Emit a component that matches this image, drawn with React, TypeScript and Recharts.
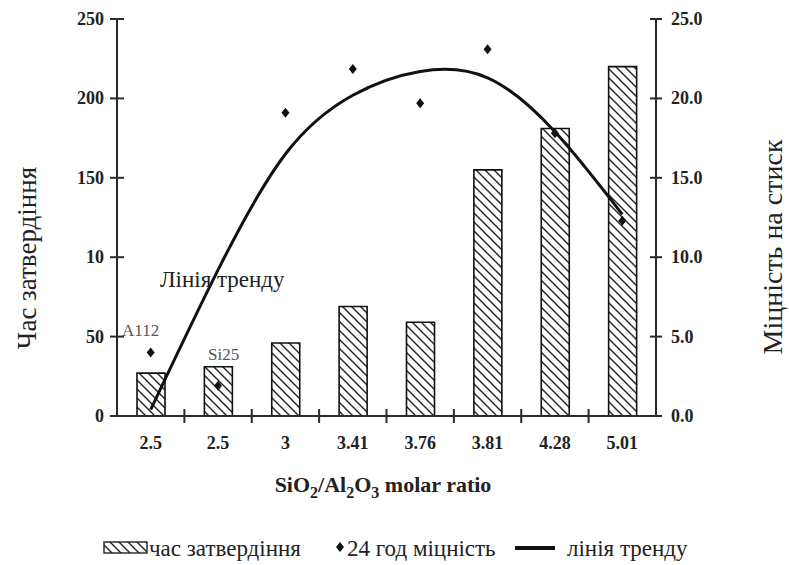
import React from 'react';
import { ComposedChart, Bar, Line, Scatter, XAxis, YAxis } from 'recharts';

const categories = ['2.5', '2.5', '3', '3.41', '3.76', '3.81', '4.28', '5.01'];
const curingTime = [27, 31, 46, 69, 59, 155, 181, 220];
const strength24h = [4.0, 1.9, 19.1, 21.85, 19.7, 23.1, 17.8, 12.3];
const trendLine = [0.4, 9.2, 16.5, 20.2, 21.7, 21.3, 17.9, 12.7];
const leftTicks = [0, 50, 100, 150, 200, 250];
const leftTickLabels = ['0', '50', '10', '150', '200', '250'];
const rightTicks = [0, 5, 10, 15, 20, 25];

const data = categories.map((c, i) => ({
  id: 'c' + i,
  label: c,
  time: curingTime[i],
  strength: strength24h[i],
  trend: trendLine[i],
}));

const SERIF = '"Liberation Serif", "DejaVu Serif", serif';
const CYR = '"Liberation Serif", "Liberation Sans", sans-serif';
const AXIS = '#2a2a2a';
const W = 789;
const H = 565;

const LeftTick = (props: any) => {
  const { x, y, payload } = props;
  const idx = leftTicks.indexOf(payload.value);
  return (
    <g>
      <line x1={x - 7} x2={x + 7} y1={y} y2={y} stroke={AXIS} strokeWidth={2} />
      <text x={x - 13} y={y + 6} textAnchor="end" fontFamily={SERIF} fontWeight="bold" fontSize={18} fill="#222">
        {idx >= 0 ? leftTickLabels[idx] : payload.value}
      </text>
    </g>
  );
};

const RightTick = (props: any) => {
  const { x, y, payload } = props;
  return (
    <g>
      <line x1={x - 6} x2={x + 6} y1={y} y2={y} stroke={AXIS} strokeWidth={2} />
      <text x={x + 15} y={y + 6} textAnchor="start" fontFamily={SERIF} fontWeight="bold" fontSize={18} fill="#222">
        {Number(payload.value).toFixed(1)}
      </text>
    </g>
  );
};

const XTick = (props: any) => {
  const { x, y, payload, index } = props;
  const half = payload && payload.offset ? payload.offset : 539 / categories.length / 2;
  const i = typeof index === 'number' ? index : 0;
  return (
    <g>
      {i > 0 && <line x1={x - half} x2={x - half} y1={y - 7} y2={y + 7} stroke={AXIS} strokeWidth={2} />}
      <text x={x} y={y + 33} textAnchor="middle" fontFamily={SERIF} fontWeight="bold" fontSize={18} fill="#222">
        {categories[i]}
      </text>
    </g>
  );
};

const Diamond = (props: any) => {
  const { cx, cy } = props;
  if (cx == null || cy == null) return null;
  return <polygon points={`${cx},${cy - 5} ${cx + 4},${cy} ${cx},${cy + 5} ${cx - 4},${cy}`} fill="#111" />;
};

const HatchDef = ({ id }: { id: string }) => (
  <pattern id={id} patternUnits="userSpaceOnUse" width="9" height="9">
    <rect width="9" height="9" fill="#fff" />
    <path d="M-2.25,6.75 l4.5,4.5 M0,0 l9,9 M6.75,-2.25 l4.5,4.5" stroke="#222" strokeWidth="1.4" />
  </pattern>
);

export default function App() {
  return (
    <div style={{ position: 'absolute', left: 0, top: 0, width: W, height: H, background: '#fff' }}>
      <ComposedChart
        width={W}
        height={H}
        data={data}
        margin={{ top: 19, right: 0, bottom: 109, left: 0 }}
      >
        <defs>
          <HatchDef id="hatch" />
        </defs>
        <XAxis
          dataKey="id"
          xAxisId="x"
          height={40}
          axisLine={{ stroke: AXIS, strokeWidth: 2 }}
          tickLine={false}
          tickSize={0}
          tickMargin={0}
          interval={0}
          tick={<XTick />}
        />
        <YAxis
          yAxisId="left"
          orientation="left"
          width={117}
          domain={[0, 250]}
          ticks={leftTicks}
          axisLine={{ stroke: AXIS, strokeWidth: 2 }}
          tickLine={false}
          tickSize={0}
          tickMargin={0}
          interval={0}
          tick={<LeftTick />}
        />
        <YAxis
          yAxisId="right"
          orientation="right"
          width={133}
          domain={[0, 25]}
          ticks={rightTicks}
          axisLine={{ stroke: AXIS, strokeWidth: 2 }}
          tickLine={false}
          tickSize={0}
          tickMargin={0}
          interval={0}
          tick={<RightTick />}
        />
        <Bar
          xAxisId="x"
          yAxisId="left"
          dataKey="time"
          barSize={28}
          fill="url(#hatch)"
          stroke="#111"
          strokeWidth={1.6}
          isAnimationActive={false}
        />
        <Scatter
          xAxisId="x"
          yAxisId="right"
          dataKey="strength"
          shape={<Diamond />}
          isAnimationActive={false}
        />
        <Line
          xAxisId="x"
          yAxisId="right"
          type="natural"
          dataKey="trend"
          stroke="#111"
          strokeWidth={3}
          dot={false}
          activeDot={false}
          isAnimationActive={false}
        />
      </ComposedChart>
      <svg
        width={W}
        height={H}
        style={{ position: 'absolute', left: 0, top: 0, pointerEvents: 'none' }}
      >
        <defs>
          <HatchDef id="hatchLegend" />
        </defs>
        <text
          transform="translate(36,258) rotate(-90)"
          textAnchor="middle"
          fontFamily={CYR}
          fontSize={27}
          fill="#222"
        >
          Час затвердіння
        </text>
        <text
          transform="translate(782,247) rotate(-90)"
          textAnchor="middle"
          fontFamily={CYR}
          fontSize={28}
          fill="#222"
        >
          Міцність на стиск
        </text>
        <text x={160} y={287} fontFamily={CYR} fontSize={23} fill="#222">
          Лінія тренду
        </text>
        <text x={122} y={336} fontFamily={SERIF} fontSize={17} fill="#555">
          A112
        </text>
        <text x={208} y={360} fontFamily={SERIF} fontSize={17} fill="#555">
          Si25
        </text>
        <text x={383} y={492} textAnchor="middle" fontFamily={SERIF} fontWeight="bold" fontSize={22} fill="#222">
          SiO<tspan dy={6} fontSize={16}>2</tspan>
          <tspan dy={-6}>/Al</tspan>
          <tspan dy={6} fontSize={16}>2</tspan>
          <tspan dy={-6}>O</tspan>
          <tspan dy={6} fontSize={16}>3</tspan>
          <tspan dy={-6}> molar ratio</tspan>
        </text>
        <rect x={104} y={542} width={43} height={11} fill="url(#hatchLegend)" stroke="#222" strokeWidth={1.4} />
        <text x={149} y={556} fontFamily={CYR} fontSize={23} fill="#222">
          час затвердіння
        </text>
        <polygon points="340,542 344,547 340,552 336,547" fill="#111" />
        <text x={347} y={556} fontFamily={CYR} fontSize={23} fill="#222">
          24 год міцність
        </text>
        <line x1={515} x2={555} y1={548} y2={548} stroke="#111" strokeWidth={4} />
        <text x={567} y={556} fontFamily={CYR} fontSize={23} fill="#222">
          лінія тренду
        </text>
      </svg>
    </div>
  );
}
